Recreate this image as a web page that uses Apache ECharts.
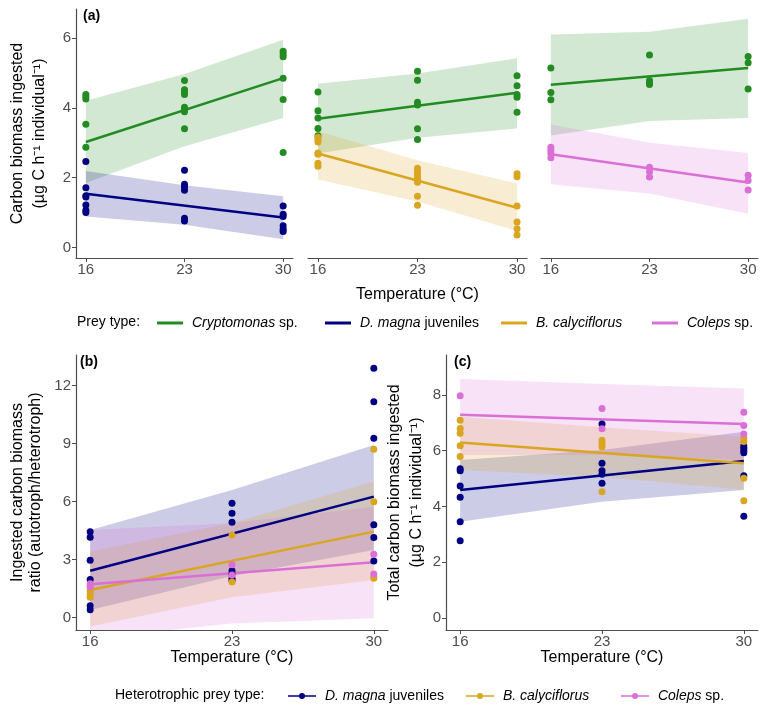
<!DOCTYPE html>
<html>
<head>
<meta charset="utf-8">
<script src="https://cdn.jsdelivr.net/npm/echarts@6/dist/echarts.min.js"></script>
<style>
html,body{margin:0;padding:0;background:#fff}
#main{width:768px;height:709px}
</style>
</head>
<body>
<div id="main"></div>
<script>
// temperatures and tick labels
var temps = [16, 23, 30];
var fitTemps = [16, 30];
var xTicks = [16, 23, 30];
var yTicksA = [0, 2, 4, 6];
var yTicksB = [0, 3, 6, 9, 12];
var yTicksC = [0, 2, 4, 6, 8];

// (a) left: Cryptomonas + D. magna juveniles   (points per temp: 16, 23, 30)
var a1CryptoPts = [[4.38, 4.32, 4.25, 3.53, 2.87], [4.78, 4.52, 4.46, 4.38, 4.02, 3.95, 3.89, 3.40], [5.62, 5.54, 5.46, 4.85, 4.24, 2.72]];
var a1CryptoFit = [3.02, 4.85];
var a1CryptoLo = [1.85, 2.90, 3.71];
var a1CryptoHi = [4.20, 4.97, 5.95];
var a1DmagPts = [[2.46, 1.71, 1.48, 1.45, 1.22, 1.07, 1.00], [2.21, 1.81, 1.73, 1.64, 0.84, 0.76], [1.19, 0.95, 0.89, 0.62, 0.52, 0.46]];
var a1DmagFit = [1.54, 0.86];
var a1DmagLo = [0.89, 0.65, 0.24];
var a1DmagHi = [2.19, 1.78, 1.47];

// (a) middle: Cryptomonas + B. calyciflorus
var a2CryptoPts = [[4.45, 3.92, 3.71, 3.41, 3.20], [5.05, 4.79, 4.16, 4.08, 3.40, 3.09], [4.92, 4.63, 4.38, 4.30, 3.87]];
var a2CryptoFit = [3.69, 4.43];
var a2CryptoLo = [2.69, 3.14, 3.41];
var a2CryptoHi = [4.69, 4.98, 5.42];
var a2BcalPts = [[3.16, 3.09, 3.02, 2.71, 2.67, 2.41, 2.33], [2.27, 2.17, 2.07, 1.98, 1.87, 1.47, 1.21], [2.11, 2.03, 1.19, 0.73, 0.54, 0.36]];
var a2BcalFit = [2.69, 1.14];
var a2BcalLo = [1.95, 1.32, 0.47];
var a2BcalHi = [3.33, 2.50, 1.83];

// (a) right: Cryptomonas + Coleps
var a3CryptoPts = [[5.14, 4.44, 4.23], [5.51, 4.78, 4.71, 4.67], [5.47, 5.29, 4.54]];
var a3CryptoFit = [4.66, 5.14];
var a3CryptoLo = [3.21, 3.62, 3.71];
var a3CryptoHi = [6.10, 6.18, 6.55];
var a3ColPts = [[2.87, 2.78, 2.69, 2.57], [2.30, 2.17, 2.02], [2.07, 1.92, 1.65]];
var a3ColFit = [2.67, 1.86];
var a3ColLo = [1.81, 1.55, 0.97];
var a3ColHi = [3.52, 3.00, 2.71];

// (b) ratio autotroph/heterotroph
var bDmagPts = [[4.45, 4.16, 2.97, 1.97, 0.62, 0.41], [5.92, 5.40, 4.93, 2.43, 2.26, 2.04, 1.92], [12.90, 11.17, 9.28, 4.80, 4.14, 2.93]];
var bDmagFit = [2.43, 6.26];
var bDmagLo = [0.40, 2.15, 3.50];
var bDmagHi = [4.54, 6.60, 8.93];
var bBcalPts = [[1.65, 1.50, 1.35, 1.20, 1.05], [4.28, 1.85], [8.71, 6.00, 2.12, 2.04]];
var bBcalFit = [1.43, 4.45];
var bBcalLo = [-0.46, 1.05, 1.95];
var bBcalHi = [3.42, 4.90, 7.04];
var bColPts = [[1.75, 1.60], [2.73, 2.20], [3.28, 2.26]];
var bColFit = [1.73, 2.86];
var bColLo = [-1.08, -0.30, -0.03];
var bColHi = [4.54, 4.90, 5.74];

// (c) total carbon biomass ingested
var cDmagPts = [[5.35, 5.28, 4.73, 4.33, 3.45, 2.77], [6.96, 5.55, 5.28, 5.16, 4.83], [6.17, 6.09, 6.00, 5.93, 5.10, 3.65]];
var cDmagFit = [4.59, 5.63];
var cDmagLo = [3.45, 4.17, 4.59];
var cDmagHi = [5.67, 6.03, 6.68];
var cBcalPts = [[7.10, 6.80, 6.63, 6.18, 5.79], [6.38, 6.27, 6.14, 4.53], [6.45, 6.33, 5.01, 4.20]];
var cBcalFit = [6.30, 5.55];
var cBcalLo = [5.31, 5.07, 4.60];
var cBcalHi = [7.22, 6.84, 6.50];
var cColPts = [[7.98], [7.52, 6.79], [7.38, 6.91, 6.60]];
var cColFit = [7.29, 6.96];
var cColLo = [5.85, 5.86, 5.67];
var cColHi = [8.58, 8.40, 8.24];

var namesA = ['Cryptomonas sp.', 'D. magna juveniles', 'B. calyciflorus', 'Coleps sp.'];
var namesB = ['D. magna juveniles', 'B. calyciflorus', 'Coleps sp.'];
var italicBits = {
	'Cryptomonas sp.': ['Cryptomonas', ' sp.'],
	'D. magna juveniles': ['D. magna', ' juveniles'],
	'B. calyciflorus': ['B. calyciflorus', ''],
	'Coleps sp.': ['Coleps', ' sp.']
};

var GREEN = '#228B22', NAVY = '#000080', GOLD = '#DAA520', ORCHID = '#DA70D6';
var FONT = '"Liberation Sans", Arial, Helvetica, sans-serif';
var AXIS = '#4d4d4d';

var chart = echarts.init(document.getElementById('main'));

function hexA(hex, a) {
	var n = parseInt(hex.slice(1), 16);
	return 'rgba(' + (n >> 16) + ',' + ((n >> 8) & 255) + ',' + (n & 255) + ',' + a + ')';
}

function toPts(vals) {
	var out = [];
	temps.forEach(function (t, i) {
		vals[i].forEach(function (v) { out.push([t, v]); });
	});
	return out;
}

function group(idx, name, color, p, fit, lo, hi) {
	return [
		{
			type: 'custom', xAxisIndex: idx, yAxisIndex: idx, clip: true, silent: true, z: 1,
			data: temps.map(function (t, i) { return [t, lo[i], hi[i]]; }),
			renderItem: function (params, api) {
				if (params.dataIndex !== 0) return;
				var top = [], bot = [];
				for (var i = 0; i < temps.length; i++) {
					top.push(api.coord([temps[i], hi[i]]));
					bot.unshift(api.coord([temps[i], lo[i]]));
				}
				return { type: 'polygon', shape: { points: top.concat(bot) }, style: { fill: hexA(color, 0.2) } };
			}
		},
		{
			type: 'line', name: name, xAxisIndex: idx, yAxisIndex: idx, color: color, silent: true, z: 2,
			data: fitTemps.map(function (t, i) { return [t, fit[i]]; }),
			symbol: 'none', showSymbol: false,
			lineStyle: { color: color, width: 2.5 }, itemStyle: { color: color }
		},
		{
			type: 'scatter', xAxisIndex: idx, yAxisIndex: idx, silent: true, z: 3,
			data: toPts(p), symbolSize: 7, itemStyle: { color: color, opacity: 1 }
		}
	];
}

function xAx(idx, nameGap) {
	return {
		type: 'value', gridIndex: idx, min: 15.3, max: 30.7,
		axisLine: { show: true, onZero: false, lineStyle: { color: AXIS, width: 1.2 } },
		axisTick: { show: true, length: 4, customValues: xTicks, lineStyle: { color: AXIS } },
		axisLabel: { customValues: xTicks, color: AXIS, fontSize: 15, margin: 4, fontFamily: FONT },
		splitLine: { show: false },
		name: nameGap ? 'Temperature (°C)' : '', nameLocation: 'middle', nameGap: nameGap || 0,
		nameTextStyle: { color: '#000', fontSize: 16, fontFamily: FONT }
	};
}

function yAx(idx, min, max, ticks, show, name, gap, lh) {
	return {
		type: 'value', gridIndex: idx, min: min, max: max, show: show,
		axisLine: { show: true, onZero: false, lineStyle: { color: AXIS, width: 1.2 } },
		axisTick: { show: true, length: 4, customValues: ticks, lineStyle: { color: AXIS } },
		axisLabel: { customValues: ticks, color: AXIS, fontSize: 15, margin: 5, fontFamily: FONT },
		splitLine: { show: false },
		name: name || '', nameLocation: 'middle', nameRotate: 90, nameGap: gap || 0,
		nameTextStyle: { color: '#000', fontSize: 16, lineHeight: lh || 20, fontFamily: FONT }
	};
}

var legendText = {
	fontSize: 14, color: '#000', fontFamily: FONT,
	rich: { i: { fontStyle: 'italic', fontSize: 14, color: '#000', fontFamily: FONT } }
};
function legendFmt(name) {
	var b = italicBits[name];
	return '{i| ' + b[0] + '}' + b[1];
}

// one legend per entry so each sits where the reference puts it
var lineIcon = 'rect';
var dotIcon = 'path://M0,3.2L28,3.2L28,4.8L0,4.8Z M17,4A3,3 0 1 1 11,4A3,3 0 1 1 17,4Z';
var legendLeftA = [152, 320, 496, 647];
var legendLeftB = [283, 461, 616];
var legends = [];
namesA.forEach(function (n, i) {
	legends.push({
		data: [n], left: legendLeftA[i], top: 311, icon: lineIcon, itemWidth: 26, itemHeight: 3,
		selectedMode: false, formatter: legendFmt, textStyle: legendText
	});
});
namesB.forEach(function (n, i) {
	legends.push({
		data: [n], left: legendLeftB[i], top: 684, icon: dotIcon, itemWidth: 28, itemHeight: 8,
		selectedMode: false, formatter: legendFmt, textStyle: legendText
	});
});

var series = []
	.concat(group(0, 'Cryptomonas sp.', GREEN, a1CryptoPts, a1CryptoFit, a1CryptoLo, a1CryptoHi))
	.concat(group(0, 'D. magna juveniles', NAVY, a1DmagPts, a1DmagFit, a1DmagLo, a1DmagHi))
	.concat(group(1, 'Cryptomonas sp.', GREEN, a2CryptoPts, a2CryptoFit, a2CryptoLo, a2CryptoHi))
	.concat(group(1, 'B. calyciflorus', GOLD, a2BcalPts, a2BcalFit, a2BcalLo, a2BcalHi))
	.concat(group(2, 'Cryptomonas sp.', GREEN, a3CryptoPts, a3CryptoFit, a3CryptoLo, a3CryptoHi))
	.concat(group(2, 'Coleps sp.', ORCHID, a3ColPts, a3ColFit, a3ColLo, a3ColHi))
	.concat(group(3, 'D. magna juveniles', NAVY, bDmagPts, bDmagFit, bDmagLo, bDmagHi))
	.concat(group(3, 'B. calyciflorus', GOLD, bBcalPts, bBcalFit, bBcalLo, bBcalHi))
	.concat(group(3, 'Coleps sp.', ORCHID, bColPts, bColFit, bColLo, bColHi))
	.concat(group(4, 'D. magna juveniles', NAVY, cDmagPts, cDmagFit, cDmagLo, cDmagHi))
	.concat(group(4, 'B. calyciflorus', GOLD, cBcalPts, cBcalFit, cBcalLo, cBcalHi))
	.concat(group(4, 'Coleps sp.', ORCHID, cColPts, cColFit, cColLo, cColHi));

var option = {
	animation: false,
	backgroundColor: '#fff',
	textStyle: { fontFamily: FONT },
	grid: [
		{ left: 76, top: 9, width: 217, height: 249 },
		{ left: 308, top: 9, width: 219, height: 249 },
		{ left: 541, top: 9, width: 217, height: 249 },
		{ left: 76, top: 355, width: 312, height: 275 },
		{ left: 446, top: 355, width: 312, height: 275 }
	],
	xAxis: [xAx(0), xAx(1, 29), xAx(2), xAx(3, 20), xAx(4, 20)],
	yAxis: [
		yAx(0, -0.3, 6.83, yTicksA, true, 'Carbon biomass ingested\n(µg C h⁻¹ individual⁻¹)', 25, 22),
		yAx(1, -0.3, 6.83, yTicksA, false),
		yAx(2, -0.3, 6.83, yTicksA, false),
		yAx(3, -0.64, 13.59, yTicksB, true, 'Ingested carbon biomass\nratio (autotroph/heterotroph)', 31, 18),
		yAx(4, -0.44, 9.44, yTicksC, true, 'Total carbon biomass ingested\n(µg C h⁻¹ individual⁻¹)', 18, 22)
	],
	legend: legends,
	graphic: [
		{ type: 'text', left: 77, top: 315, style: { text: 'Prey type:', font: '14px ' + FONT, fill: '#000' } },
		{ type: 'text', left: 115, top: 688, style: { text: 'Heterotrophic prey type:', font: '14px ' + FONT, fill: '#000' } },
		{ type: 'text', left: 83, top: 9, style: { text: '(a)', font: 'bold 14px ' + FONT, fill: '#000' } },
		{ type: 'text', left: 80, top: 355, style: { text: '(b)', font: 'bold 14px ' + FONT, fill: '#000' } },
		{ type: 'text', left: 454, top: 355, style: { text: '(c)', font: 'bold 14px ' + FONT, fill: '#000' } }
	],
	series: series
};

chart.setOption(option);
</script>
</body>
</html>
